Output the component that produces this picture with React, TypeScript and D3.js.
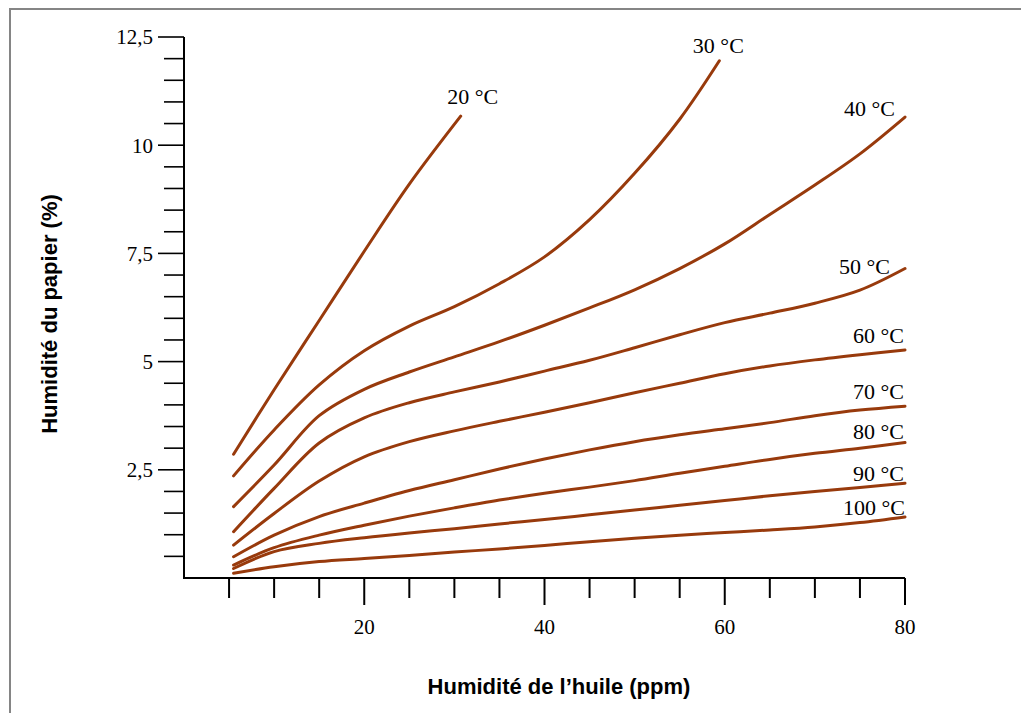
import React from 'react';
import * as d3 from 'd3';

// Oil humidity (ppm) vs paper humidity (%) for each temperature
const ppm = [5.5, 10, 15, 20, 25, 30, 35, 40, 45, 50, 55, 60, 65, 70, 75, 80];

const c20 = [[5.5, 2.86], [10, 4.35], [15, 5.95], [20, 7.55], [25, 9.1], [30.7, 10.67]];
const c30 = [[5.5, 2.36], [10, 3.42], [15, 4.46], [20, 5.25], [25, 5.82], [30, 6.27], [35, 6.8], [40, 7.42], [45, 8.28], [50, 9.35], [55, 10.6], [59.4, 11.95]];
const c40 = [1.65, 2.61, 3.75, 4.36, 4.76, 5.11, 5.46, 5.84, 6.24, 6.66, 7.15, 7.72, 8.4, 9.08, 9.8, 10.65];
const c50 = [1.07, 2.07, 3.12, 3.7, 4.05, 4.3, 4.53, 4.78, 5.03, 5.32, 5.62, 5.9, 6.12, 6.35, 6.65, 7.15];
const c60 = [0.76, 1.49, 2.24, 2.8, 3.15, 3.4, 3.62, 3.83, 4.05, 4.28, 4.5, 4.72, 4.9, 5.04, 5.16, 5.27];
const c70 = [0.49, 0.99, 1.42, 1.73, 2.02, 2.27, 2.52, 2.75, 2.96, 3.15, 3.31, 3.45, 3.59, 3.75, 3.88, 3.97];
const c80 = [0.3, 0.7, 0.99, 1.22, 1.43, 1.62, 1.8, 1.96, 2.1, 2.25, 2.42, 2.58, 2.74, 2.88, 3.0, 3.13];
const c90 = [0.22, 0.61, 0.8, 0.93, 1.04, 1.14, 1.25, 1.35, 1.46, 1.57, 1.68, 1.79, 1.9, 2.0, 2.09, 2.19];
const c100 = [0.11, 0.26, 0.38, 0.45, 0.52, 0.6, 0.67, 0.75, 0.84, 0.92, 0.99, 1.05, 1.11, 1.18, 1.28, 1.41];

const seriesNames = ['20 °C', '30 °C', '40 °C', '50 °C', '60 °C', '70 °C', '80 °C', '90 °C', '100 °C'];

const xTickValues = [20, 40, 60, 80];
const xTickLabels = ['20', '40', '60', '80'];
const yTickValues = [2.5, 5, 7.5, 10, 12.5];
const yTickLabels = ['2,5', '5', '7,5', '10', '12,5'];

// label placement relative to the end of each curve
const labelPos: { anchor: string; dx: number; dy: number }[] = [
  { anchor: 'middle', dx: 12, dy: -12 },
  { anchor: 'middle', dx: -1, dy: -8 },
  { anchor: 'end', dx: -10, dy: -1 },
  { anchor: 'end', dx: -15, dy: 5 },
  { anchor: 'end', dx: -1, dy: -7 },
  { anchor: 'end', dx: -1, dy: -7 },
  { anchor: 'end', dx: -1, dy: -4 },
  { anchor: 'end', dx: -1, dy: -2 },
  { anchor: 'end', dx: 0, dy: -2 },
];

const withPpm = (vals: number[]) => vals.map((v, i) => [ppm[i], v]);

const App: React.FC = () => {
  const width = 1021;
  const height = 713;

  const x = d3.scaleLinear().domain([0, 80]).range([184, 905]);
  const y = d3.scaleLinear().domain([0, 12.5]).range([578, 37]);

  const curves = [c20, c30, withPpm(c40), withPpm(c50), withPpm(c60), withPpm(c70), withPpm(c80), withPpm(c90), withPpm(c100)];

  const line = d3
    .line<number[]>()
    .x((d) => x(d[0]))
    .y((d) => y(d[1]))
    .curve(d3.curveCatmullRom.alpha(0.5));

  const xMinor = d3.range(5, 81, 5);
  const yMinor = d3.range(0.5, 12.51, 0.5);

  const serif = '"Liberation Serif", "Times New Roman", serif';
  const sans = '"Liberation Sans", Arial, sans-serif';
  const color = '#983a0c';

  return (
    <svg width={width} height={height} style={{ position: 'absolute', left: 0, top: 0, background: '#fff' }}>
      <rect x={10} y={9} width={1040} height={740} fill="#fff" stroke="#858585" strokeWidth={2} />

      {/* y axis */}
      <line x1={x(0)} x2={x(0)} y1={y(12.5)} y2={y(0) + 1} stroke="#000" strokeWidth={2} />
      {yMinor.map((v) => {
        const major = yTickValues.includes(v);
        return <line key={v} x1={x(0) - (major ? 26 : 20)} x2={x(0)} y1={y(v)} y2={y(v)} stroke="#000" strokeWidth={1.6} />;
      })}
      {yTickValues.map((v, i) => (
        <text key={v} x={x(0) - 31} y={y(v)} dy="0.35em" textAnchor="end" fontFamily={serif} fontSize={21} fill="#000">
          {yTickLabels[i]}
        </text>
      ))}

      {/* x axis */}
      <line x1={x(0) - 1} x2={x(80)} y1={y(0)} y2={y(0)} stroke="#000" strokeWidth={2} />
      {xMinor.map((v) => {
        const major = xTickValues.includes(v);
        return <line key={v} x1={x(v)} x2={x(v)} y1={y(0)} y2={y(0) + (major ? 27 : 20)} stroke="#000" strokeWidth={2} />;
      })}
      {xTickValues.map((v, i) => (
        <text key={v} x={x(v)} y={634} textAnchor="middle" fontFamily={serif} fontSize={21} fill="#000">
          {xTickLabels[i]}
        </text>
      ))}

      {/* curves */}
      {curves.map((c, i) => (
        <path key={seriesNames[i]} d={line(c) || ''} fill="none" stroke={color} strokeWidth={3} strokeLinecap="round" />
      ))}
      {curves.map((c, i) => {
        const last = c[c.length - 1];
        const p = labelPos[i];
        return (
          <text
            key={'l' + seriesNames[i]}
            x={x(last[0]) + p.dx}
            y={y(last[1]) + p.dy}
            textAnchor={p.anchor}
            fontFamily={serif}
            fontSize={22}
            fill="#000"
          >
            {seriesNames[i]}
          </text>
        );
      })}

      {/* axis titles */}
      <text x={559} y={694} textAnchor="middle" fontFamily={sans} fontWeight="bold" fontSize={22} fill="#000">
        Humidité de l’huile (ppm)
      </text>
      <text
        transform="translate(57,314) rotate(-90)"
        textAnchor="middle"
        fontFamily={sans}
        fontWeight="bold"
        fontSize={22}
        fill="#000"
      >
        Humidité du papier (%)
      </text>
    </svg>
  );
};

export default App;
